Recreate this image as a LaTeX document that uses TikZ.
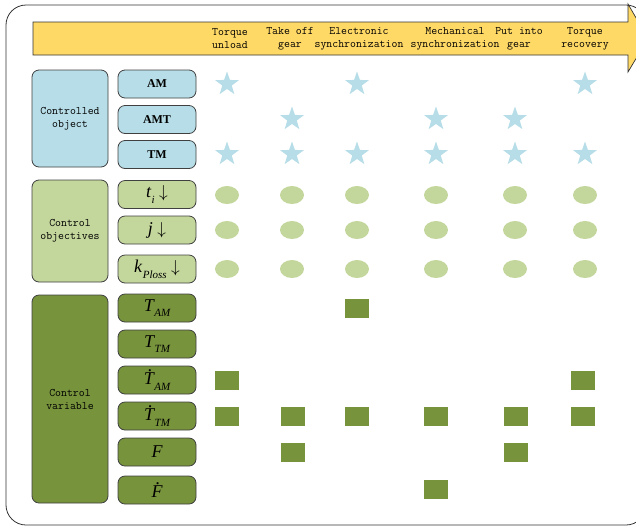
\documentclass[tikz,border=0pt]{standalone}
\usepackage{fontspec}
\usetikzlibrary{shapes.geometric}
\newfontfamily\timesfont{Liberation Serif}
\definecolor{objblue}{HTML}{B7DEE8}
\definecolor{goalgreen}{HTML}{C3D69B}
\definecolor{vargreen}{HTML}{77933C}
\definecolor{bandyellow}{HTML}{FFD966}
\newcommand{\symlbl}[2]{#1\raisebox{-0.32em}{\fontsize{11}{11}\selectfont\hspace{0.05em}#2}}
\newcommand{\dotover}[1]{\rlap{\hspace{0.24em}\raisebox{0.76em}{.}}#1}
\begin{document}
\begin{tikzpicture}[x=1pt,y=-1pt]
\tikzstyle{every node}+=[inner sep=0pt]
\tikzstyle{bigbox}=[draw=black!75, line width=0.8pt, rounded corners=7pt, minimum width=76pt, align=center, font=\ttfamily\fontsize{11.5}{13}\selectfont]
\tikzstyle{smallbox}=[draw=black!75, line width=0.8pt, rounded corners=7pt, minimum width=78pt, minimum height=28pt]
\tikzstyle{phase}=[align=center, font=\ttfamily\fontsize{11.5}{13}\selectfont]
\tikzstyle{objstar}=[star, star points=5, star point ratio=2.5, minimum size=25pt, fill=objblue]
\tikzstyle{goaldot}=[ellipse, minimum width=24pt, minimum height=18pt, fill=goalgreen]
\tikzstyle{varsq}=[rectangle, minimum width=24pt, minimum height=19pt, fill=vargreen]
\tikzstyle{objlbl}=[font=\timesfont\bfseries\fontsize{12}{14}\selectfont]
\tikzstyle{mathlbl}=[font=\timesfont\itshape\fontsize{18}{20}\selectfont]
\useasboundingbox (0,0) rectangle (636,528);
\draw [black!80, line width=0.8pt, rounded corners=20pt] (6,5) rectangle (646,525);
\filldraw [fill=bandyellow, draw=black!80, line width=0.7pt] (33,22) -- (628,22) -- (628,4) -- (648,38.5) -- (628,72) -- (628,55) -- (33,55) -- cycle;
\node [phase] (unload) at (230,39) {Torque\\unload};
\node [phase] (takeoff) at (290,39) {Take off\\gear};
\node [phase] (esync) at (359,39) {Electronic\\synchronization};
\node [phase] (msync) at (455,39) {Mechanical\\synchronization};
\node [phase] (putin) at (519,39) {Put into\\gear};
\node [phase] (recover) at (585,39) {Torque\\recovery};
\node [bigbox, fill=objblue, minimum height=97pt] (object) at (70,118.5) {Controlled\\object};
\node [bigbox, fill=goalgreen, minimum height=102pt] (goal) at (70,231) {Control\\objectives};
\node [bigbox, fill=vargreen, minimum height=208pt] (variable) at (70,399) {Control\\variable};
\node [smallbox, fill=objblue, objlbl] (am) at (157,84) {AM};
\node [smallbox, fill=objblue, objlbl] (amt) at (157,119.5) {AMT};
\node [smallbox, fill=objblue, objlbl] (tm) at (157,154.5) {TM};
\node [smallbox, fill=goalgreen, mathlbl] (ti) at (157,194.5) {\symlbl{t}{i}\ $\downarrow$};
\node [smallbox, fill=goalgreen, mathlbl] (jerk) at (157,230) {j\ $\downarrow$};
\node [smallbox, fill=goalgreen, mathlbl] (kploss) at (157,269) {\symlbl{k}{Ploss}\ $\downarrow$};
\node [smallbox, fill=vargreen, mathlbl] (tam) at (157,308) {\symlbl{T}{AM}};
\node [smallbox, fill=vargreen, mathlbl] (ttm) at (157,344) {\symlbl{T}{TM}};
\node [smallbox, fill=vargreen, mathlbl] (dtam) at (157,380) {\symlbl{\dotover{T}}{AM}};
\node [smallbox, fill=vargreen, mathlbl] (dttm) at (157,416) {\symlbl{\dotover{T}}{TM}};
\node [smallbox, fill=vargreen, mathlbl] (force) at (157,452) {F};
\node [smallbox, fill=vargreen, mathlbl] (dforce) at (157,490) {\dotover{F}};
\node [objstar] (s11) at (227,84) {};
\node [objstar] (s13) at (357,84) {};
\node [objstar] (s16) at (585,84) {};
\node [objstar] (s22) at (292,119) {};
\node [objstar] (s24) at (436,119) {};
\node [objstar] (s25) at (515,119) {};
\node [objstar] (s31) at (227,154) {};
\node [objstar] (s32) at (292,154) {};
\node [objstar] (s33) at (357,154) {};
\node [objstar] (s34) at (436,154) {};
\node [objstar] (s35) at (515,154) {};
\node [objstar] (s36) at (585,154) {};
\node [goaldot] (e11) at (227,195) {};
\node [goaldot] (e12) at (292,195) {};
\node [goaldot] (e13) at (357,195) {};
\node [goaldot] (e14) at (436,195) {};
\node [goaldot] (e15) at (515,195) {};
\node [goaldot] (e16) at (585,195) {};
\node [goaldot] (e21) at (227,230) {};
\node [goaldot] (e22) at (292,230) {};
\node [goaldot] (e23) at (357,230) {};
\node [goaldot] (e24) at (436,230) {};
\node [goaldot] (e25) at (515,230) {};
\node [goaldot] (e26) at (585,230) {};
\node [goaldot] (e31) at (227,269) {};
\node [goaldot] (e32) at (292,269) {};
\node [goaldot] (e33) at (357,269) {};
\node [goaldot] (e34) at (436,269) {};
\node [goaldot] (e35) at (515,269) {};
\node [goaldot] (e36) at (585,269) {};
\node [varsq] (q13) at (357,308) {};
\node [varsq] (q31) at (227,380.5) {};
\node [varsq] (q36) at (583,380.5) {};
\node [varsq] (q41) at (227,416.5) {};
\node [varsq] (q42) at (293,416.5) {};
\node [varsq] (q43) at (357,416.5) {};
\node [varsq] (q44) at (436,416.5) {};
\node [varsq] (q45) at (516,416.5) {};
\node [varsq] (q46) at (583,416.5) {};
\node [varsq] (q52) at (293,452.5) {};
\node [varsq] (q55) at (516,452.5) {};
\node [varsq] (q64) at (436,489.5) {};
\end{tikzpicture}
\end{document}
